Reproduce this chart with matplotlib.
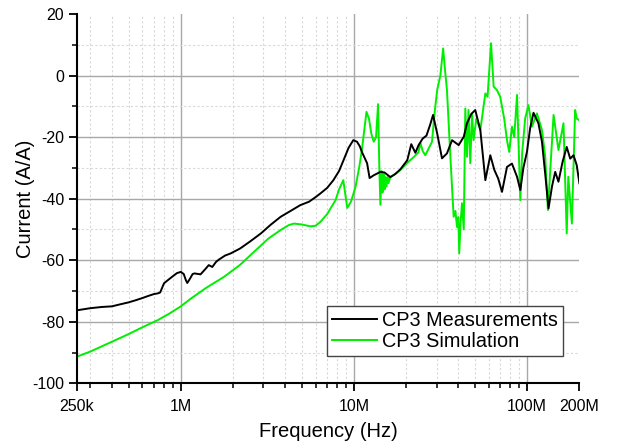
import numpy as np
import matplotlib
matplotlib.use("Agg")
import matplotlib.pyplot as plt
from matplotlib.ticker import FixedLocator, NullFormatter

plt.rcParams['font.family'] = ['Liberation Sans', 'DejaVu Sans']
plt.rcParams['axes.unicode_minus'] = False

# CP3 measurements (frequency in Hz, current in dB A/A)
meas_f = [250e3, 300e3, 350e3, 400e3, 450e3, 500e3, 550e3, 600e3, 650e3,
          700e3, 735e3, 760e3, 800e3, 850e3, 900e3, 950e3, 1.0e6, 1.04e6,
          1.07e6, 1.09e6, 1.13e6, 1.17e6, 1.2e6, 1.3e6, 1.38e6, 1.45e6,
          1.52e6, 1.6e6, 1.66e6, 1.8e6, 1.94e6, 2.2e6, 2.5e6, 2.9e6, 3.3e6,
          3.77e6, 4.3e6, 4.9e6, 5.5e6, 6.0e6, 6.4e6, 7.0e6, 7.6e6, 8.2e6,
          8.7e6, 9.3e6, 9.9e6, 10.4e6, 10.8e6, 11.1e6, 11.9e6, 12.3e6,
          13.0e6, 14.2e6, 15.0e6, 16.2e6, 17.3e6, 18.5e6, 20.3e6, 21.4e6,
          22.6e6, 23.6e6, 24.9e6, 26.2e6, 27.5e6, 28.6e6, 30.2e6, 32.2e6,
          34.4e6, 36.8e6, 40.2e6, 43.0e6, 44.9e6, 47.5e6, 50.1e6, 53.6e6,
          57.3e6, 61.2e6, 64.6e6, 68.0e6, 71.5e6, 76.4e6, 81.6e6, 87.3e6,
          91.2e6, 95.0e6, 99.6e6, 104e6, 108.7e6, 116e6, 121.6e6, 127e6,
          132.7e6, 139e6, 145e6, 151.4e6, 160e6, 169e6, 177e6, 185e6,
          193e6, 200e6]
meas_db = [-76.3, -75.6, -75.2, -75.0, -74.3, -73.7, -73.0, -72.3, -71.6,
           -71.0, -70.8, -70.5, -67.5, -66.3, -65.2, -64.2, -63.8, -64.5,
           -66.5, -67.4, -66.0, -64.5, -64.3, -64.6, -63.0, -61.6,
           -62.2, -60.5, -59.8, -58.5, -57.8, -56.2, -54.0, -51.3, -48.5,
           -45.9, -44.0, -42.1, -41.0, -39.5, -38.3, -36.5, -34.0, -31.0,
           -27.5, -23.5, -21.0, -21.5, -23.0, -24.8, -28.5, -33.3,
           -32.4, -31.3, -31.5, -33.0, -32.0, -30.5, -27.5, -22.3,
           -25.1, -22.6, -20.5, -19.5, -16.0, -12.8, -18.8, -26.9,
           -25.3, -21.0, -22.6, -19.9, -15.5, -12.5, -11.2, -17.7,
           -34.0, -25.9, -30.7, -33.5, -37.8, -29.7, -28.6, -32.9,
           -37.2, -30.0, -24.8, -17.0, -12.1, -15.5, -21.5, -32.0,
           -43.2, -36.0, -31.3, -34.5, -28.0, -23.2, -27.0, -25.9,
           -29.1, -35.0]

# CP3 simulation
sim_f = [250e3, 300e3, 400e3, 500e3, 600e3, 735e3, 850e3, 1.0e6, 1.142e6,
         1.4e6, 1.777e6, 2.2e6, 2.645e6, 3.2e6, 3.77e6, 4.2e6, 4.5e6, 5.0e6,
         5.6e6, 6.0e6, 6.41e6, 7.0e6, 7.82e6, 8.2e6, 8.67e6, 9.14e6, 9.6e6,
         10.2e6, 10.7e6, 11.1e6, 11.5e6, 11.8e6, 12.2e6, 12.6e6, 13.0e6,
         13.4e6, 13.77e6, 14.0e6, 14.2e6, 14.4e6, 14.6e6, 14.8e6, 15.0e6,
         15.2e6, 15.4e6, 15.6e6, 15.8e6, 16.2e6, 17.0e6, 18.5e6, 20.0e6,
         22.2e6, 23.5e6, 24.2e6, 24.9e6, 25.8e6, 28.2e6, 29.2e6, 30.2e6,
         31.5e6, 32.7e6, 33.5e6, 34.4e6, 36.0e6, 37.6e6, 38.5e6, 39.3e6,
         40.0e6, 40.5e6, 41.2e6, 42.0e6, 43.0e6, 43.9e6, 44.9e6, 45.8e6,
         46.9e6, 48.0e6, 49.0e6, 50.8e6, 53.6e6, 57.3e6, 59.0e6, 61.8e6,
         64.0e6, 66.8e6, 69.8e6, 71.5e6, 73.6e6, 76.4e6, 78.7e6, 81.6e6,
         84.1e6, 87.3e6, 91.2e6, 93.5e6, 97.3e6, 101.6e6, 106.4e6, 113.8e6,
         121.6e6, 127e6, 131.6e6, 141.9e6, 151.4e6, 161.9e6, 169e6, 172.6e6,
         181e6, 189e6, 193e6, 200e6]
sim_db = [-91.4, -89.7, -86.5, -84.0, -81.8, -79.5, -77.5, -75.0, -72.5,
          -69.0, -65.4, -61.5, -57.3, -53.0, -50.2, -48.6, -48.1, -48.4,
          -49.0, -48.8, -47.5, -45.0, -40.5, -37.0, -34.0, -43.0, -41.0,
          -36.2, -30.0, -24.2, -17.0, -11.8, -14.0, -19.0, -21.5,
          -20.0, -9.3, -30.0, -42.0, -31.0, -38.0, -32.0, -37.0,
          -33.0, -36.0, -33.0, -35.0, -33.0, -32.3, -30.7, -28.7,
          -26.4, -25.0, -22.0, -24.5, -25.9, -21.5, -12.0, -4.7,
          0.0, 8.8, 2.0, -4.7, -26.4, -45.9, -44.0, -49.2,
          -46.0, -57.8, -48.0, -41.5, -50.0, -10.7, -26.4, -11.2,
          -28.5, -12.3, -21.0, -14.0, -17.7, -5.8, -6.9, 10.5,
          -3.6, -4.7, -6.9, -10.1, -14.0, -21.0, -24.8, -16.6,
          -20.0, -6.3, -40.5, -25.0, -13.9, -9.6, -16.6, -12.3,
          -17.7, -26.4, -43.7, -12.8, -24.2, -15.5, -51.3, -32.9,
          -48.1, -11.2, -14.0, -14.5]

fig = plt.figure(figsize=(6.23, 4.46), dpi=100)
ax = fig.add_axes([0.1228, 0.1406, 0.8072, 0.828])

ax.plot(meas_f, meas_db, color='black', lw=1.4, label='CP3 Measurements', zorder=3)
ax.plot(sim_f, sim_db, color='#00ee00', lw=1.4, label='CP3 Simulation', zorder=2)

ax.set_xscale('log')
ax.set_xlim(250e3, 200e6)
ax.set_ylim(-100, 20)

major_x = [250e3, 1e6, 10e6, 100e6, 200e6]
minor_x = [m * 10 ** e for e in range(5, 9) for m in range(2, 10)
           if 250e3 < m * 10 ** e < 200e6]
ax.xaxis.set_major_locator(FixedLocator(major_x))
ax.xaxis.set_minor_locator(FixedLocator(minor_x))
ax.set_xticklabels(['250k', '1M', '10M', '100M', '200M'])
ax.xaxis.set_minor_formatter(NullFormatter())
ax.set_yticks(np.arange(-100, 21, 20))
ax.set_yticks(np.arange(-90, 20, 20), minor=True)

ax.grid(which='major', color='#a8a8a8', lw=1.0, ls='-')
ax.grid(which='minor', color='#d8d8d8', lw=0.8, ls=(0, (2, 2)))
ax.set_axisbelow(True)
# no grid line along the frame edges
for gl in ax.xaxis.get_gridlines():
    if gl.get_xdata()[0] in (250e3, 200e6):
        gl.set_visible(False)
ax.yaxis.get_gridlines()[-1].set_visible(False)
ax.yaxis.get_gridlines()[0].set_visible(False)

for s in ('top', 'right'):
    ax.spines[s].set_visible(False)
for s in ('left', 'bottom'):
    ax.spines[s].set_linewidth(1.5)

ax.tick_params(which='major', direction='out', length=6, width=1.3, labelsize=11.5)
ax.tick_params(which='minor', direction='out', length=3.5, width=1.1)
ax.tick_params(axis='x', pad=5)
ax.tick_params(axis='y', pad=3)

ax.set_xlabel('Frequency (Hz)', fontsize=14.5, labelpad=6)
ax.set_ylabel('Current (A/A)', fontsize=14.5, labelpad=-2)

leg = ax.legend(loc='lower left', bbox_to_anchor=(326.7 / 623, 1 - 356 / 446),
                bbox_transform=fig.transFigure, fontsize=14.3, frameon=True,
                fancybox=False, shadow=False, handlelength=2.3,
                handletextpad=0.25, borderpad=0.25, labelspacing=0.1,
                borderaxespad=0)
leg.get_frame().set_edgecolor('#444444')
leg.get_frame().set_linewidth(1.0)
leg.get_frame().set_alpha(1)

fig.savefig('out.png', dpi=100)
